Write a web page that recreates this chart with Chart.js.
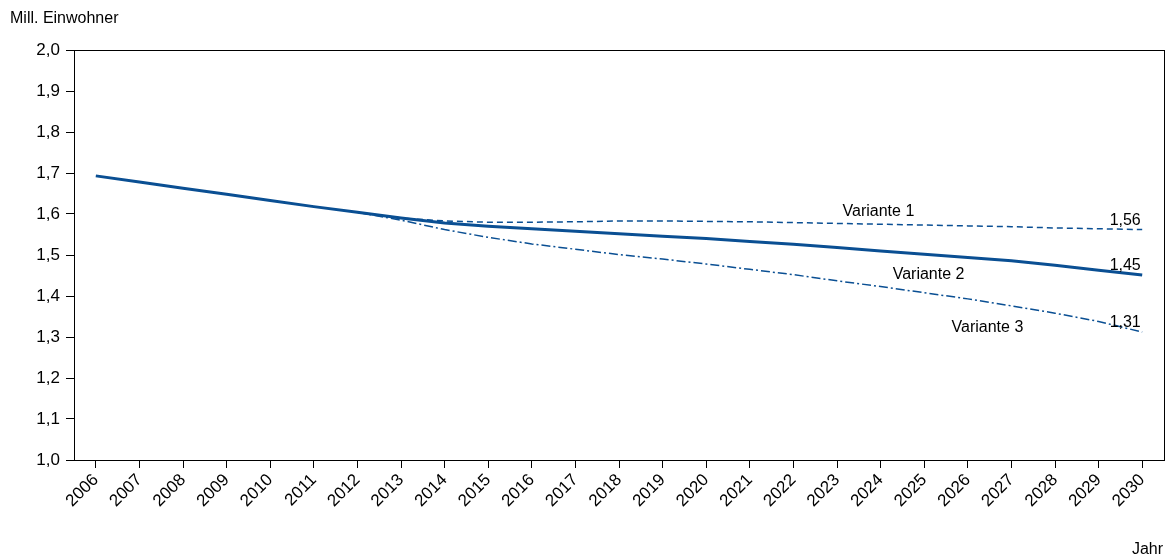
<!DOCTYPE html>
<html>
<head>
<meta charset="utf-8">
<script src="https://cdn.jsdelivr.net/npm/chart.js@4"></script>
<style>
  html, body { margin: 0; padding: 0; background: #fff; }
  #wrap { width: 1173px; height: 560px; position: relative; }
</style>
</head>
<body>
<div id="wrap"><canvas id="c" width="1173" height="560"></canvas></div>
<script>
// Data
const years = ['2006','2007','2008','2009','2010','2011','2012','2013','2014','2015','2016','2017','2018',
  '2019','2020','2021','2022','2023','2024','2025','2026','2027','2028','2029','2030'];
const variante2 = [1.693,1.678,1.663,1.648,1.633,1.618,1.604,1.590,1.578,1.570,1.564,1.558,1.552,
  1.546,1.540,1.533,1.526,1.518,1.510,1.502,1.494,1.486,1.475,1.463,1.451];
const variante1 = [null,null,null,null,null,null,1.604,1.590,1.583,1.580,1.580,1.581,1.583,
  1.583,1.582,1.581,1.579,1.577,1.575,1.573,1.571,1.569,1.566,1.564,1.562];
const variante3 = [null,null,null,null,null,null,1.604,1.585,1.562,1.543,1.527,1.514,1.501,
  1.490,1.478,1.465,1.452,1.437,1.423,1.408,1.393,1.376,1.358,1.338,1.312];
const yTicks = [1.0,1.1,1.2,1.3,1.4,1.5,1.6,1.7,1.8,1.9,2.0];

const blue = '#0a4f93';
const font = "'Liberation Sans', Arial, sans-serif";

const labelsPlugin = {
  id: 'labels',
  afterDraw(chart) {
    const { ctx, chartArea: a, scales: { x, y } } = chart;
    ctx.save();
    // frame
    ctx.strokeStyle = '#000';
    ctx.lineWidth = 1;
    ctx.strokeRect(a.left + 0.5, a.top + 0.5, a.right - a.left, a.bottom - a.top);
    ctx.fillStyle = '#000';
    ctx.font = '16px ' + font;
    ctx.textBaseline = 'alphabetic';
    ctx.textAlign = 'left';
    ctx.fillText('Mill. Einwohner', 10, 23);
    ctx.textAlign = 'right';
    ctx.fillText('Jahr', 1163, 554);
    // series labels
    ctx.textAlign = 'center';
    const last = years.length - 1;
    const ex = x.getPixelForValue(last) - 17;
    ctx.fillText('1,56', ex, y.getPixelForValue(variante1[last]) - 5);
    ctx.fillText('1,45', ex, y.getPixelForValue(variante2[last]) - 5);
    ctx.fillText('1,31', ex, y.getPixelForValue(variante3[last]) - 5);
    ctx.fillText('Variante 1', x.getPixelForValue(17.95), y.getPixelForValue(1.6) + 2);
    ctx.fillText('Variante 2', x.getPixelForValue(19.1), y.getPixelForValue(1.45) + 3);
    ctx.fillText('Variante 3', x.getPixelForValue(20.45), y.getPixelForValue(1.32) + 3);
    ctx.restore();
  }
};

new Chart(document.getElementById('c'), {
  type: 'line',
  data: {
    labels: years,
    datasets: [
      { data: variante1, borderColor: blue, borderWidth: 1.5, borderDash: [6, 4], pointRadius: 0, tension: 0 },
      { data: variante3, borderColor: blue, borderWidth: 1.5, borderDash: [9, 3, 2, 3], pointRadius: 0, tension: 0 },
      { data: variante2, borderColor: blue, borderWidth: 3, pointRadius: 0, tension: 0 }
    ]
  },
  options: {
    responsive: false,
    animation: false,
    layout: { padding: { top: 50, right: 9, left: 0, bottom: 0 } },
    plugins: { legend: { display: false }, tooltip: { enabled: false } },
    scales: {
      x: {
        offset: true,
        grid: { offset: false, drawOnChartArea: false, drawTicks: true, tickLength: 8, color: '#000' },
        border: { color: '#000' },
        ticks: { color: '#000', font: { family: font, size: 17 }, maxRotation: 45, minRotation: 45, autoSkip: false, padding: 2 },
        afterFit(s) { s.height = 100; }
      },
      y: {
        min: 1.0, max: 2.0,
        afterBuildTicks(s) { s.ticks = yTicks.map(v => ({ value: v })); },
        grid: { drawOnChartArea: false, drawTicks: true, tickLength: 8, color: '#000' },
        border: { color: '#000' },
        ticks: { color: '#000', font: { family: font, size: 17 }, padding: 6,
          callback: v => v.toFixed(1).replace('.', ',') },
        afterFit(s) { s.width = 74; }
      }
    }
  },
  plugins: [labelsPlugin]
});
</script>
</body>
</html>
